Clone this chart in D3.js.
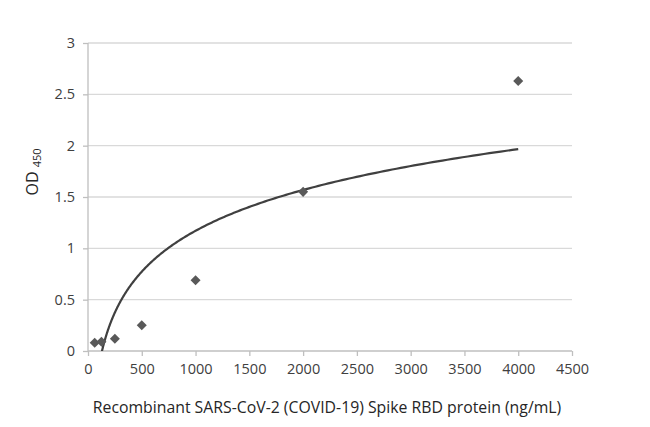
<!DOCTYPE html>
<html>
<head>
<meta charset="utf-8">
<script src="https://cdn.jsdelivr.net/npm/d3@7"></script>
<style>
  body { margin: 0; background: #fff; }
  svg text { font-family: "Open Sans", "Liberation Sans", sans-serif; }
</style>
</head>
<body>
<svg id="chart" width="650" height="427"></svg>
<script>
// concentration (ng/mL) and measured OD450
const conc = [62.5, 125, 250, 500, 1000, 2000, 4000];
const od = [0.08, 0.09, 0.12, 0.25, 0.69, 1.55, 2.63];
const xTicks = [0, 500, 1000, 1500, 2000, 2500, 3000, 3500, 4000, 4500];
const yTicks = [0, 0.5, 1, 1.5, 2, 2.5, 3];

const svg = d3.select('#chart');
const plotL = 88, plotR = 572, plotT = 43, plotB = 351;

const x = d3.scaleLinear().domain([0, 4500]).range([plotL, plotR]);
const y = d3.scaleLinear().domain([0, 3]).range([plotB, plotT]);

// gridlines
svg.append('g')
	.selectAll('line')
	.data(yTicks.filter(d => d > 0))
	.enter().append('line')
	.attr('x1', plotL).attr('x2', plotR)
	.attr('y1', d => y(d)).attr('y2', d => y(d))
	.attr('stroke', '#d9d9d9').attr('stroke-width', 1.3);

// y axis
const yAxis = svg.append('g')
	.attr('transform', `translate(${plotL},0)`)
	.call(d3.axisLeft(y).tickValues(yTicks).tickSize(5).tickPadding(8).tickFormat(d3.format('')));
// x axis
const xAxis = svg.append('g')
	.attr('transform', `translate(0,${plotB})`)
	.call(d3.axisBottom(x).tickValues(xTicks).tickSize(5).tickPadding(8).tickFormat(d3.format('')));

[yAxis, xAxis].forEach(function(a) {
	a.select('.domain').attr('stroke', '#bfbfbf').attr('stroke-width', 1.3);
	a.selectAll('.tick line').attr('stroke', '#bfbfbf').attr('stroke-width', 1.3);
	a.selectAll('.tick text').attr('fill', '#404040').style('font-size', '14.5px');
});
xAxis.select('.domain').attr('d', `M${plotL},0H${plotR}`);
yAxis.select('.domain').attr('d', `M0,${plotB}V${plotT}`);

// logarithmic trendline fitted from the data (least squares on ln x)
const lx = conc.map(Math.log);
const mx = d3.mean(lx), my = d3.mean(od);
const slope = d3.sum(lx, (v, i) => (v - mx) * (od[i] - my)) / d3.sum(lx, v => (v - mx) * (v - mx));
const icpt = my - slope * mx;
const trend = [];
for (let i = 0; i <= 300; i++) {
	const c = conc[0] * Math.pow(conc[conc.length - 1] / conc[0], i / 300);
	trend.push([c, slope * Math.log(c) + icpt]);
}

svg.append('clipPath').attr('id', 'plot-clip')
	.append('rect').attr('x', plotL).attr('y', plotT - 40).attr('width', plotR - plotL).attr('height', plotB - plotT + 40);

svg.append('path')
	.datum(trend)
	.attr('clip-path', 'url(#plot-clip)')
	.attr('fill', 'none')
	.attr('stroke', '#404040')
	.attr('stroke-width', 2.2)
	.attr('d', d3.line().x(d => x(d[0])).y(d => y(d[1])));

// diamond markers
svg.append('g')
	.selectAll('path')
	.data(conc)
	.enter().append('path')
	.attr('transform', (d, i) => `translate(${x(d)},${y(od[i])})`)
	.attr('d', d3.symbol().type(d3.symbolDiamond2).size(64))
	.attr('fill', '#595959');

// axis titles
svg.append('text')
	.attr('x', (plotL + plotR) / 2 - 3).attr('y', 413)
	.attr('text-anchor', 'middle')
	.attr('fill', '#262626')
	.style('font-size', '15.8px')
	.text('Recombinant SARS-CoV-2 (COVID-19) Spike RBD protein (ng/mL)');

const yt = svg.append('text')
	.attr('transform', 'translate(38,172) rotate(-90)')
	.attr('text-anchor', 'middle')
	.attr('fill', '#262626')
	.style('font-size', '16px');
yt.append('tspan').text('OD ');
yt.append('tspan').style('font-size', '11px').attr('dy', 3).text('450');
</script>
</body>
</html>
